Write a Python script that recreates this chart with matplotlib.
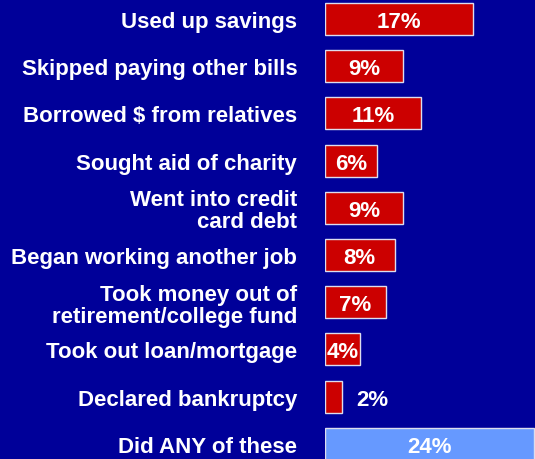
import matplotlib
matplotlib.use("Agg")
import matplotlib.pyplot as plt

plt.rcParams['font.family'] = ['Liberation Sans', 'DejaVu Sans']
plt.rcParams['font.weight'] = 'bold'

categories = ["Used up savings", "Skipped paying other bills", "Borrowed $ from relatives",
              "Sought aid of charity", "Went into credit\ncard debt", "Began working another job",
              "Took money out of\nretirement/college fund", "Took out loan/mortgage",
              "Declared bankruptcy", "Did ANY of these"]
values = [17, 9, 11, 6, 9, 8, 7, 4, 2, 24]
bar_colors = ['#CC0000'] * 9 + ['#6699FF']

bg = '#000099'
W, H = 535, 460
fig = plt.figure(figsize=(W / 100, H / 100), dpi=100, facecolor=bg)
ax = fig.add_axes([325 / W, 0, 1 - 325 / W, 1], facecolor=bg)

step = 47.2
ypos = list(range(len(values)))
ax.barh(ypos, values, height=32 / step, color=bar_colors, edgecolor='#DDDDEE', linewidth=1)

ax.set_xlim(0, 210 / 8.7)
ax.set_ylim(9 + (460 - 20 - 9 * step) / step, -20 / step)

for y, v in zip(ypos, values):
    if v < 3:
        ax.annotate(f"{v}%", (v, y), xytext=(10, 0), textcoords='offset points',
                    ha='left', va='center_baseline', color='white', fontsize=16, fontweight='bold')
    else:
        ax.text(v / 2, y, f"{v}%", ha='center', va='center_baseline', color='white',
                fontsize=16, fontweight='bold')

ax.set_yticks(ypos)
ax.set_yticklabels(categories, color='white', fontsize=16, fontweight='bold', linespacing=1.05)
ax.tick_params(axis='y', length=0, pad=20)
ax.set_xticks([])
for s in ax.spines.values():
    s.set_visible(False)

fig.savefig("out.png", dpi=100, facecolor=bg)
